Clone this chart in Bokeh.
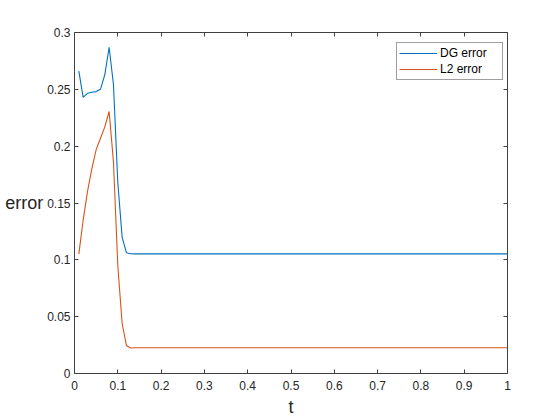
from bokeh.plotting import figure
from bokeh.models import LinearAxis, FixedTicker, Legend, LegendItem, Range1d
from bokeh.embed import file_html
from bokeh.resources import INLINE

# ---- data ----
t = [0.01, 0.02, 0.03, 0.04, 0.05, 0.06, 0.07, 0.08, 0.09, 0.10, 0.11, 0.12, 0.13, 0.14, 1.0]
dg_error = [0.266, 0.243, 0.2465, 0.2475, 0.248, 0.250, 0.263, 0.287, 0.254, 0.168, 0.120, 0.1062, 0.1053, 0.1052, 0.1052]
l2_error = [0.105, 0.135, 0.160, 0.180, 0.197, 0.207, 0.217, 0.2305, 0.186, 0.095, 0.044, 0.0245, 0.0224, 0.0226, 0.0226]

x_ticks = [0, 0.1, 0.2, 0.3, 0.4, 0.5, 0.6, 0.7, 0.8, 0.9, 1.0]
x_tick_labels = ["0", "0.1", "0.2", "0.3", "0.4", "0.5", "0.6", "0.7", "0.8", "0.9", "1"]
y_ticks = [0, 0.05, 0.1, 0.15, 0.2, 0.25, 0.3]
y_tick_labels = ["0", "0.05", "0.1", "0.15", "0.2", "0.25", "0.3"]

series_names = ["DG error", "L2 error"]
x_label = "t"
y_label = "error"

FONT = "Liberation Sans"
AX = "#404040"

p = figure(width=560, height=420, output_backend="svg", toolbar_location=None,
           x_range=Range1d(0, 1), y_range=Range1d(0, 0.3),
           x_axis_location=None, y_axis_location=None,
           min_border_left=74, min_border_right=53, min_border_top=32, min_border_bottom=47)
p.grid.visible = False
p.outline_line_color = AX
p.outline_line_width = 1
p.background_fill_color = "white"
p.border_fill_color = "white"

def make_axis(ticks, labels):
    ax = LinearAxis(ticker=FixedTicker(ticks=ticks))
    ax.major_label_overrides = {tk: lb for tk, lb in zip(ticks, labels)}
    ax.major_tick_in = 4
    ax.major_tick_out = 0
    ax.minor_tick_in = 0
    ax.minor_tick_out = 0
    ax.major_tick_line_color = AX
    ax.axis_line_color = None
    ax.major_label_text_font = FONT
    ax.major_label_text_color = "#262626"
    ax.major_label_text_font_size = "12px"
    return ax

def make_mirror_axis(ticks):
    # ticks only (drawn as minor ticks so that no labels are produced)
    ax = LinearAxis(ticker=FixedTicker(ticks=[], minor_ticks=ticks))
    ax.major_tick_in = 0
    ax.major_tick_out = 0
    ax.minor_tick_in = 4
    ax.minor_tick_out = 0
    ax.minor_tick_line_color = AX
    ax.axis_line_color = None
    ax.major_label_standoff = 0
    return ax

bottom = make_axis(x_ticks, x_tick_labels)
bottom.major_label_standoff = 7
bottom.axis_label = x_label
bottom.axis_label_text_font = FONT
bottom.axis_label_text_font_size = "18px"
bottom.axis_label_text_font_style = "normal"
bottom.axis_label_text_color = "#262626"
bottom.axis_label_standoff = 4

left = make_axis(y_ticks, y_tick_labels)
left.major_label_standoff = 4
try:
    left.axis_label_orientation = "horizontal"
except Exception:
    pass
left.axis_label = y_label
left.axis_label_text_font = FONT
left.axis_label_text_font_size = "18px"
left.axis_label_text_font_style = "normal"
left.axis_label_text_color = "#262626"
left.axis_label_standoff = 1

p.add_layout(bottom, "below")
p.add_layout(left, "left")
p.add_layout(make_mirror_axis(x_ticks), "above")
p.add_layout(make_mirror_axis(y_ticks), "right")

r1 = p.line(t, dg_error, line_color="#0072BD", line_width=1.1)
r2 = p.line(t, l2_error, line_color="#D95319", line_width=1.1)

legend = Legend(items=[LegendItem(label=series_names[0], renderers=[r1]),
                       LegendItem(label=series_names[1], renderers=[r2])],
                location=(322, 293), orientation="vertical")
legend.label_text_font = FONT
legend.label_text_font_size = "12px"
legend.label_text_color = "black"
legend.glyph_width = 38
legend.glyph_height = 16
legend.label_height = 16
legend.label_width = 60
legend.label_standoff = 3
legend.padding = 2
legend.spacing = 0
legend.margin = 0
legend.border_line_color = AX
legend.border_line_width = 1
legend.background_fill_color = "white"
legend.background_fill_alpha = 1
p.add_layout(legend, "center")

open("out.html", "w").write(file_html(p, INLINE))
